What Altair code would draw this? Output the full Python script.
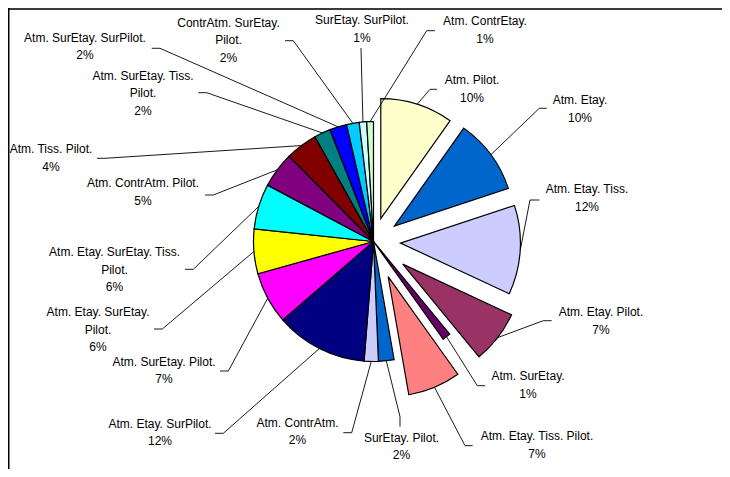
import altair as alt
import pandas as pd

# ---------------- data ----------------
categories = [
    "Atm. Pilot.", "Atm. Etay.", "Atm. Etay. Tiss.", "Atm. Etay. Pilot.", "Atm. SurEtay.",
    "Atm. Etay. Tiss. Pilot.", "SurEtay. Pilot.", "Atm. ContrAtm.", "Atm. Etay. SurPilot.",
    "Atm. SurEtay. Pilot.", "Atm. Etay. SurEtay. Pilot.", "Atm. Etay. SurEtay. Tiss. Pilot.",
    "Atm. ContrAtm. Pilot.", "Atm. Tiss. Pilot.", "Atm. SurEtay. Tiss. Pilot.",
    "Atm. SurEtay. SurPilot.", "ContrAtm. SurEtay. Pilot.", "SurEtay. SurPilot.", "Atm. ContrEtay.",
]
values = [9.8, 10.1, 12.0, 7.1, 1.1, 7.1, 2.1, 1.9, 12.4, 7.0, 6.0, 6.1, 4.8, 4.3, 2.2, 2.3, 1.7, 1.0, 0.9]
colors = [
    "#FFFFCC", "#0066CC", "#CCCCFF", "#993366", "#660066", "#FF8080", "#0066CC", "#CCCCFF",
    "#000080", "#FF00FF", "#FFFF00", "#00FFFF", "#800080", "#800000", "#008080", "#0000FF",
    "#00CCFF", "#CCFFFF", "#CCFFCC",
]

# ---------------- layout ----------------
W, H = 714, 461
OFF = 8  # page margin
CX, CY, R = 373.5 - OFF, 241.5 - OFF, 120
explode = [24, 26, 27, 37, 0, 38, 0, 0, 0, 0, 0, 0, 0, 0, 0, 0, 0, 0, 0]
wrapped = {
    "Atm. Etay. SurEtay. Pilot.": "Atm. Etay. SurEtay.\nPilot.",
    "Atm. Etay. SurEtay. Tiss. Pilot.": "Atm. Etay. SurEtay. Tiss.\nPilot.",
    "Atm. SurEtay. Tiss. Pilot.": "Atm. SurEtay. Tiss.\nPilot.",
    "ContrAtm. SurEtay. Pilot.": "ContrAtm. SurEtay.\nPilot.",
}
# label centre x, first baseline y, tick end (x, y), elbow (x, y)  -- page coords
label_layout = [
    (472, 84, 437, 89.3, 430, 89.3),
    (580, 104, 546.7, 108.3, 539.3, 108.3),
    (587, 193.3, 539.3, 200, 530, 200),
    (601, 316, 551.7, 320.7, 543.3, 320.7),
    (528, 380, 485, 385.7, 477.3, 385.7),
    (537, 440, 472.7, 445.7, 465, 445.7),
    (401.5, 441.7, 400, 426.7, 400, 416.7),
    (297.5, 426.7, 343.3, 432.7, 351.7, 432.7),
    (160, 427.7, 215, 433.3, 223.3, 433.3),
    (164, 365.7, 220, 371, 228.3, 371),
    (98, 316, 154, 329, 162.3, 329),
    (114.5, 256, 185, 269.3, 193.3, 269.3),
    (143, 187.3, 205, 195, 213.3, 195),
    (51, 153.3, 97, 158.3, 105, 158.3),
    (143, 79.5, 198.3, 92.7, 206.7, 92.7),
    (85, 41.7, 151.7, 48.3, 160, 48.3),
    (228.5, 26.7, 285, 40.7, 293.3, 40.7),
    (362, 24, 361, 48, 361, 48),
    (485, 25, 435, 30.7, 426.7, 30.7),
]

df = pd.DataFrame({
    "order": list(range(len(categories))),
    "category": categories,
    "value": values,
    "color": colors,
    "explode": explode,
    "wrapped": [wrapped.get(c, c) for c in categories],
    "labx": [l[0] - OFF for l in label_layout],
    "laby": [l[1] - OFF for l in label_layout],
    "tx": [l[2] - OFF for l in label_layout],
    "ty": [l[3] - OFF for l in label_layout],
    "kx": [l[4] - OFF for l in label_layout],
    "ky": [l[5] - OFF for l in label_layout],
})

base = alt.Chart()

arcs = base.mark_arc(outerRadius=R, innerRadius=0, stroke="black", strokeWidth=1.2).encode(
    theta=alt.Theta("t0:Q", scale=None, stack=None),
    theta2=alt.Theta2("t1:Q"),
    x=alt.X("px:Q", scale=None, axis=None),
    y=alt.Y("py:Q", scale=None, axis=None),
    color=alt.Color("color:N", scale=None, legend=None),
)

seg1 = base.mark_rule(color="black", strokeWidth=0.9).encode(
    x=alt.X("lx:Q", scale=None, axis=None),
    y=alt.Y("ly:Q", scale=None, axis=None),
    x2="kx:Q",
    y2="ky:Q",
)
seg2 = base.mark_rule(color="black", strokeWidth=0.9).encode(
    x=alt.X("kx:Q", scale=None, axis=None),
    y=alt.Y("ky:Q", scale=None, axis=None),
    x2="tx:Q",
    y2="ty:Q",
)
texts = base.mark_text(
    align="center", baseline="alphabetic", fontSize=12, font="Liberation Sans",
    lineBreak="\n", lineHeight=17.5, color="black",
).encode(
    x=alt.X("labx:Q", scale=None, axis=None),
    y=alt.Y("laby:Q", scale=None, axis=None),
    text="label:N",
)

pie = alt.layer(arcs, seg1, seg2, texts, data=df).transform_joinaggregate(
    total="sum(value)"
).transform_window(
    cum="sum(value)", sort=[alt.SortField("order")], frame=[None, 0]
).transform_calculate(
    t0="(datum.cum - datum.value) / datum.total * 2 * PI",
    t1="datum.cum / datum.total * 2 * PI",
).transform_calculate(
    mid="(datum.t0 + datum.t1) / 2",
).transform_calculate(
    px=f"{CX} + datum.explode * sin(datum.mid)",
    py=f"{CY} - datum.explode * cos(datum.mid)",
).transform_calculate(
    lx=f"datum.px + {R} * sin(datum.mid)",
    ly=f"datum.py - {R} * cos(datum.mid)",
    label="datum.wrapped + '\\n' + format(datum.value / datum.total * 100, '.0f') + '%'",
)

frame_df = pd.DataFrame({"a": [0]})
top_rule = alt.Chart(frame_df).mark_rule(color="#3a3a3a", strokeWidth=2).encode(
    x=alt.value(0), x2=alt.value(W), y=alt.value(1)
)
left_rule = alt.Chart(frame_df).mark_rule(color="black", strokeWidth=1.5).encode(
    x=alt.value(0.75), y=alt.value(0), y2=alt.value(H)
)

chart = alt.layer(top_rule, left_rule, pie).properties(
    width=W, height=H, autosize=alt.AutoSizeParams(type="none"), padding=0
).configure_view(stroke=None)

chart.save("out.html", embed_options={"renderer": "svg", "actions": False})
